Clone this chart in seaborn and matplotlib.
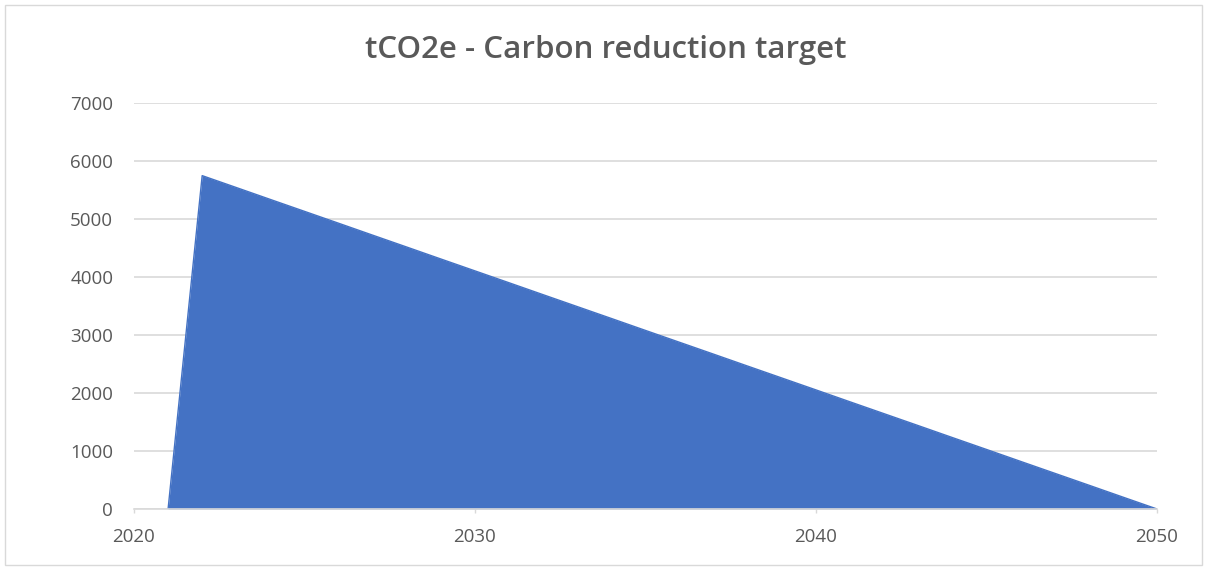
import pandas as pd
import seaborn as sns
import matplotlib
matplotlib.use('Agg')
import matplotlib.pyplot as plt
from matplotlib.patches import Rectangle

TITLE = "tCO2e - Carbon reduction target"
YEARS = list(range(2021, 2051))
EMISSIONS = [0, 5750, 5545, 5339, 5134, 4929, 4723, 4518, 4312, 4107,
             3902, 3696, 3491, 3286, 3080, 2875, 2670, 2464, 2259, 2054,
             1848, 1643, 1438, 1232, 1027, 821, 616, 411, 205, 0]
X_TICKS = [2020, 2030, 2040, 2050]
Y_TICKS = [0, 1000, 2000, 3000, 4000, 5000, 6000, 7000]

FILL = "#4472C4"
TEXT = "#595959"
GRID = "#D9D9D9"


def main():
    sns.set_theme(style="white")
    plt.rcParams['font.family'] = ['Open Sans', 'DejaVu Sans']

    df = pd.DataFrame({"year": YEARS, "tco2e": EMISSIONS})

    fig = plt.figure(figsize=(12.07, 5.7), dpi=100)
    ax = fig.add_axes([0.111, 0.107, 0.8476, 0.712])

    ax.fill_between(df["year"], df["tco2e"], 0, color=FILL, linewidth=0)
    sns.lineplot(data=df, x="year", y="tco2e", ax=ax, color=FILL, linewidth=1)

    ax.set_xlim(2020, 2050)
    ax.set_ylim(0, 7000)
    ax.set_xticks(X_TICKS)
    ax.set_yticks(Y_TICKS)
    ax.set_xlabel("")
    ax.set_ylabel("")
    ax.yaxis.grid(True, color=GRID, linewidth=1.2)
    ax.set_axisbelow(True)

    for side in ["top", "right", "left"]:
        ax.spines[side].set_visible(False)
    ax.spines["bottom"].set_color(GRID)
    ax.spines["bottom"].set_linewidth(1.2)

    ax.tick_params(axis="x", colors=TEXT, labelsize=13.5, length=3,
                   width=1, color=GRID, pad=11, direction="out", bottom=True)
    ax.tick_params(axis="y", colors=TEXT, labelsize=13.5, length=0, pad=15)

    fig.text(0.502, 0.912, TITLE, ha="center", va="center",
             fontsize=22.5, color=TEXT, fontweight="semibold")

    fig.patches.append(Rectangle((0.004, 0.008), 0.992, 0.984,
                                 transform=fig.transFigure, fill=False,
                                 edgecolor=GRID, linewidth=1))

    fig.savefig("out.png", dpi=100)
    plt.close(fig)


if __name__ == "__main__":
    main()
